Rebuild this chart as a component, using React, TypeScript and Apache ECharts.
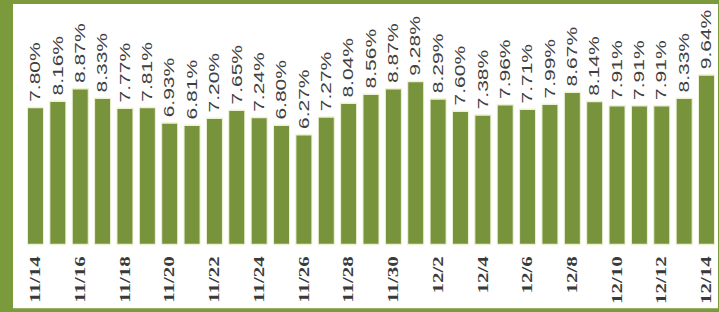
import React, { useEffect, useRef } from "react";
import * as echarts from "echarts";

const categories = [
  "11/14", "11/15", "11/16", "11/17", "11/18", "11/19", "11/20", "11/21", "11/22", "11/23",
  "11/24", "11/25", "11/26", "11/27", "11/28", "11/29", "11/30", "12/1", "12/2", "12/3",
  "12/4", "12/5", "12/6", "12/7", "12/8", "12/9", "12/10", "12/11", "12/12", "12/13", "12/14",
];
const values = [
  7.80, 8.16, 8.87, 8.33, 7.77, 7.81, 6.93, 6.81, 7.20, 7.65,
  7.24, 6.80, 6.27, 7.27, 8.04, 8.56, 8.87, 9.28, 8.29, 7.60,
  7.38, 7.96, 7.71, 7.99, 8.67, 8.14, 7.91, 7.91, 7.91, 8.33, 9.64,
];

const STRETCH = 1.5;

export default function App() {
  const ref = useRef<HTMLDivElement>(null);
  useEffect(() => {
    if (!ref.current) return;
    const chart = echarts.init(ref.current, undefined, { renderer: "svg" });
    chart.setOption({
      animation: false,
      backgroundColor: "#ffffff",
      grid: { left: 11.3, right: 0.3, top: 28.4 / STRETCH, bottom: 62 / STRETCH, containLabel: false },
      xAxis: {
        type: "category",
        data: categories,
        axisLine: { show: false },
        axisTick: { show: false },
        axisLabel: {
          interval: 1,
          rotate: 90,
          margin: 11 / STRETCH,
          color: "#3a3a3a",
          fontFamily: "Liberation Serif",
          fontSize: 14,
          fontWeight: "bold",
        },
      },
      yAxis: {
        type: "value",
        min: 0,
        max: 12,
        show: false,
        splitLine: { show: false },
      },
      series: [
        {
          type: "bar",
          data: values,
          barCategoryGap: "24%",
          itemStyle: { color: "#77933c", borderColor: "#eef2d4", borderWidth: 1 },
          label: {
            show: true,
            position: "top",
            rotate: 90,
            align: "left",
            verticalAlign: "middle",
            distance: 5 / STRETCH,
            color: "#404040",
            fontFamily: "Liberation Sans",
            fontSize: 14,
            formatter: (p: any) => p.value.toFixed(2) + "%",
          },
        },
      ],
    });
    return () => chart.dispose();
  }, []);
  return (
    <div style={{ position: "fixed", left: 0, top: 0, width: 719, height: 312, background: "#7b9a3b" }}>
      <div
        ref={ref}
        style={{
          position: "absolute",
          left: 13,
          top: 4,
          width: 705,
          height: 304 / STRETCH,
          transform: `scaleY(${STRETCH})`,
          transformOrigin: "top left",
        }}
      />
    </div>
  );
}
